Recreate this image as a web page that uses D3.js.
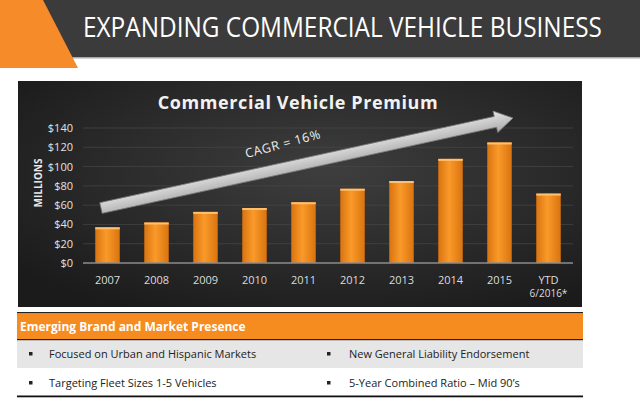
<!DOCTYPE html>
<html>
<head>
<meta charset="utf-8">
<script src="https://cdn.jsdelivr.net/npm/d3@7"></script>
<style>
  body { margin: 0; background: #fff; }
  svg { display: block; }
</style>
</head>
<body>
<div id="chart"></div>
<script>
// data
var years = ["2007", "2008", "2009", "2010", "2011", "2012", "2013", "2014", "2015", "YTD"];
var premium = [37, 42, 53, 57, 63, 77, 85, 108, 125, 72];
var yTicks = [0, 20, 40, 60, 80, 100, 120, 140];
var bulletsLeft = ["Focused on Urban and Hispanic Markets", "Targeting Fleet Sizes 1-5 Vehicles"];
var bulletsRight = ["New General Liability Endorsement", "5-Year Combined Ratio \u2013 Mid 90\u2019s"];

var W = 640, H = 401;
var svg = d3.select("#chart").append("svg")
  .attr("width", W).attr("height", H);

var defs = svg.append("defs");

var bg = defs.append("radialGradient").attr("id", "panelBg")
  .attr("cx", "55%").attr("cy", "40%").attr("r", "70%");
bg.append("stop").attr("offset", "0%").attr("stop-color", "#3e3e3e");
bg.append("stop").attr("offset", "100%").attr("stop-color", "#1b1b1b");

var barG = defs.append("linearGradient").attr("id", "barFill")
  .attr("x1", "0").attr("x2", "1").attr("y1", "0").attr("y2", "0");
barG.append("stop").attr("offset", "0%").attr("stop-color", "#d9730f");
barG.append("stop").attr("offset", "45%").attr("stop-color", "#fa9a2a");
barG.append("stop").attr("offset", "100%").attr("stop-color", "#d9730f");

var arrG = defs.append("linearGradient").attr("id", "arrowFill")
  .attr("x1", "0").attr("x2", "0").attr("y1", "0").attr("y2", "1");
arrG.append("stop").attr("offset", "0%").attr("stop-color", "#e6e6e6");
arrG.append("stop").attr("offset", "100%").attr("stop-color", "#a9a9a9");

// header band
svg.append("rect").attr("x", 0).attr("y", 0).attr("width", W).attr("height", 57)
  .attr("fill", "#3b3b3b");
svg.append("rect").attr("x", 0).attr("y", 57).attr("width", W).attr("height", 1.5)
  .attr("fill", "#a8a8a8");
svg.append("path").attr("d", "M0,0 L43,0 L78,68 L0,68 Z").attr("fill", "#f68b2a");
var head = svg.append("text")
  .attr("x", 0).attr("y", 0)
  .attr("fill", "#ffffff")
  .style("font-family", "'Open Sans', sans-serif")
  .style("font-size", "28px")
  .text("EXPANDING COMMERCIAL VEHICLE BUSINESS");
// squeeze the header to the slide's narrow font width
var headLen = head.node().getComputedTextLength();
head.attr("transform", "translate(83,37) scale(" + (519 / headLen) + ",1)");

// chart panel
svg.append("rect").attr("x", 18).attr("y", 81).attr("width", 564).attr("height", 226)
  .attr("fill", "url(#panelBg)");

var margin = {left: 83, right: 573, top: 128, bottom: 263};

var x = d3.scaleBand().domain(years).range([margin.left, margin.right]).paddingInner(0.5).paddingOuter(0.25);
var y = d3.scaleLinear().domain([0, 140]).range([margin.bottom, margin.top]);

// gridlines
svg.append("g").selectAll("line").data(yTicks.slice(1)).join("line")
  .attr("x1", margin.left).attr("x2", margin.right)
  .attr("y1", d => y(d)).attr("y2", d => y(d))
  .attr("stroke", "#474747").attr("stroke-width", 0.7);

// y axis labels
var yAxis = svg.append("g")
  .attr("transform", "translate(" + margin.left + ",0)")
  .call(d3.axisLeft(y).tickValues(yTicks).tickSize(0).tickPadding(10).tickFormat(d => "$" + d));
yAxis.select(".domain").remove();
yAxis.selectAll("text")
  .attr("fill", "#e2e2e2")
  .style("font-family", "'Open Sans', sans-serif")
  .style("font-size", "11px");

svg.append("text")
  .attr("transform", "translate(42," + 183 + ") rotate(-90)")
  .attr("text-anchor", "middle")
  .attr("fill", "#e8e8e8")
  .style("font-family", "'Open Sans', sans-serif")
  .style("font-weight", "bold")
  .style("font-size", "10px")
  .text("MILLIONS");

// bars
svg.append("g").selectAll("rect").data(premium).join("rect")
  .attr("x", (d, i) => x(years[i]))
  .attr("y", d => y(d))
  .attr("width", x.bandwidth())
  .attr("height", d => y(0) - y(d))
  .attr("fill", "url(#barFill)");
svg.append("g").selectAll("rect").data(premium).join("rect")
  .attr("x", (d, i) => x(years[i]))
  .attr("y", d => y(d))
  .attr("width", x.bandwidth())
  .attr("height", 2)
  .attr("fill", "#ffc070");

// baseline
svg.append("line")
  .attr("x1", margin.left).attr("x2", margin.right)
  .attr("y1", y(0)).attr("y2", y(0))
  .attr("stroke", "#8c8c8c").attr("stroke-width", 1.5);

// x labels
svg.append("g").selectAll("text").data(years).join("text")
  .attr("x", d => x(d) + x.bandwidth() / 2)
  .attr("y", 284)
  .attr("text-anchor", "middle")
  .attr("fill", "#dcdcdc")
  .style("font-family", "'Open Sans', sans-serif")
  .style("font-size", "11px")
  .text(d => d);
svg.append("text")
  .attr("x", x("YTD") + x.bandwidth() / 2)
  .attr("y", 297)
  .attr("text-anchor", "middle")
  .attr("fill", "#dcdcdc")
  .style("font-family", "'Open Sans', sans-serif")
  .style("font-size", "10px")
  .text("6/2016*");

// title
svg.append("text")
  .attr("x", 298).attr("y", 109)
  .attr("text-anchor", "middle")
  .attr("fill", "#f2f2f2")
  .style("font-family", "'Open Sans', sans-serif")
  .style("font-weight", "bold")
  .style("font-size", "18px")
  .style("letter-spacing", "0.6px")
  .text("Commercial Vehicle Premium");

// CAGR arrow
var ax0 = 101, ay0 = 208, ax1 = 513, ay1 = 118;
var ang = Math.atan2(ay1 - ay0, ax1 - ax0) * 180 / Math.PI;
var len = Math.hypot(ax1 - ax0, ay1 - ay0);
var arrow = svg.append("g")
  .attr("transform", "translate(" + ax0 + "," + ay0 + ") rotate(" + ang + ")");
arrow.append("path")
  .attr("d", "M0,-5.5 L" + (len - 18) + ",-5.5 L" + (len - 18) + ",-11 L" + len + ",0 L" +
    (len - 18) + ",11 L" + (len - 18) + ",5.5 L0,5.5 Z")
  .attr("fill", "url(#arrowFill)")
  .attr("stroke", "#7a7a7a").attr("stroke-width", 0.8);

svg.append("text")
  .attr("transform", "translate(284,148) rotate(-15)")
  .attr("text-anchor", "middle")
  .attr("fill", "#f0f0f0")
  .style("font-family", "'Open Sans', sans-serif")
  .style("font-size", "12.5px")
  .style("letter-spacing", "0.7px")
  .text("CAGR = 16%");

// bottom info box
svg.append("rect").attr("x", 17).attr("y", 312).attr("width", 566).attr("height", 1.5).attr("fill", "#222");
svg.append("rect").attr("x", 17).attr("y", 313.5).attr("width", 566).attr("height", 25.5).attr("fill", "#f68b1f");
svg.append("rect").attr("x", 17).attr("y", 339).attr("width", 566).attr("height", 1.5).attr("fill", "#222");
svg.append("text")
  .attr("x", 20).attr("y", 331)
  .attr("fill", "#ffffff")
  .style("font-family", "'Open Sans', sans-serif")
  .style("font-weight", "bold")
  .style("font-size", "12px")
  .text("Emerging Brand and Market Presence");

svg.append("rect").attr("x", 17).attr("y", 340.5).attr("width", 566).attr("height", 27.5).attr("fill", "#e6e6e6");
svg.append("rect").attr("x", 17).attr("y", 395.5).attr("width", 566).attr("height", 1.8).attr("fill", "#111");

var rowY = [358, 387];
function bulletCol(items, bx, tx) {
  var g = svg.append("g");
  g.selectAll("rect").data(items).join("rect")
    .attr("x", bx).attr("y", (d, i) => rowY[i] - 6)
    .attr("width", 3.5).attr("height", 3.5)
    .attr("fill", "#222");
  g.selectAll("text").data(items).join("text")
    .attr("x", tx).attr("y", (d, i) => rowY[i])
    .attr("fill", "#222")
    .style("font-family", "'Open Sans', sans-serif")
    .style("font-size", "11px")
    .text(d => d);
}
bulletCol(bulletsLeft, 29, 49);
bulletCol(bulletsRight, 327, 349);
</script>
</body>
</html>
